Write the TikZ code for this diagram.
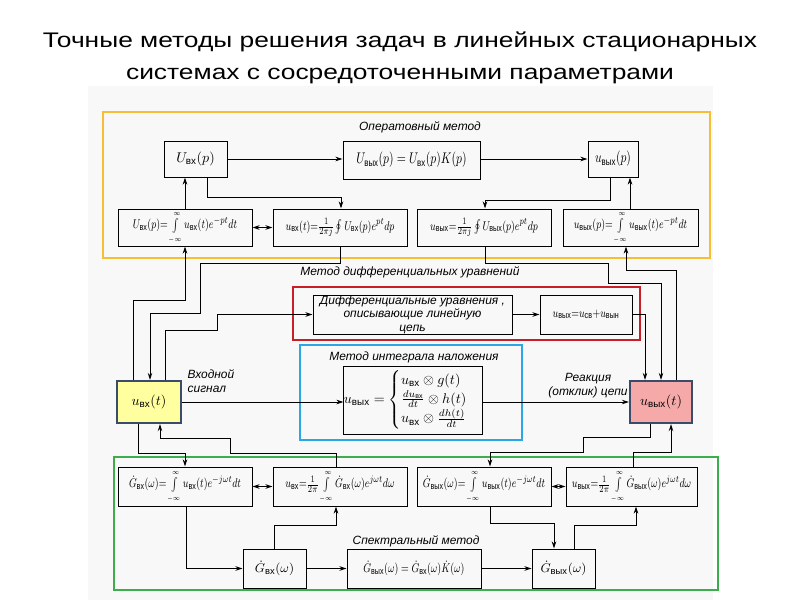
\documentclass[tikz,border=0pt]{standalone}
\usepackage{amsmath,amssymb}
\usepackage{fontspec}
\setmainfont{Liberation Sans}
\newfontfamily\titlefont[FakeStretch=1.25]{Liberation Sans}
\usepackage{tikz}
\usetikzlibrary{positioning,arrows.meta}

\definecolor{opcol}{HTML}{F6BE34}
\definecolor{difcol}{HTML}{C81E28}
\definecolor{intcol}{HTML}{2AA8E6}
\definecolor{spcol}{HTML}{3DAE4E}
\definecolor{vxfill}{HTML}{FFFFA0}
\definecolor{vyxfill}{HTML}{F5A9A9}
\definecolor{ioedge}{HTML}{3B4C6B}
\definecolor{scanbg}{HTML}{F8F8F8}

\newcommand{\vx}{\text{вх}}
\newcommand{\vyx}{\text{вых}}
\newcommand{\boxfont}{\fontsize{9.5}{10.5}\selectfont}
\newcommand{\lblfont}{\fontsize{8.5}{10}\selectfont\itshape}
% narrow formula, integral from -inf to inf
\newcommand{\cnd}[1]{\scalebox{0.76}[1]{$#1$}}
\newcommand{\infint}{\int\limits_{\scriptscriptstyle-\infty}^{\scriptscriptstyle\infty}}

\begin{document}
\begin{tikzpicture}[x=0.025cm,y=-0.025cm,
  >={Stealth[length=5pt,width=3.2pt]},
  sz/.style 2 args={minimum width=#1*0.025cm,minimum height=#2*0.025cm},
  blk/.style={draw,line width=0.7pt,inner sep=0pt,font=\boxfont},
  sig/.style={blk,line width=1.6pt,draw=ioedge,fill=#1,font=\fontsize{10}{11}\selectfont},
  frm/.style={draw=#1,line width=2pt},
  lbl/.style={font=\lblfont,inner sep=1pt},
  wire/.style={->,line width=0.7pt}]

\useasboundingbox (0,0) rectangle (800,600);
\fill[scanbg] (88,86) rectangle (713,600);

\node[font=\titlefont\fontsize{15}{22.5}\selectfont,align=center] (title) at (400,58)
  {Точные методы решения задач в линейных стационарных\\системах с сосредоточенными параметрами};

% coloured frames
\draw[frm=opcol] (103,112) rectangle (710,258);
\draw[frm=difcol] (293,287) rectangle (640,340);
\draw[frm=intcol] (300,345) rectangle (522,440);
\draw[frm=spcol] (114,457) rectangle (718,590);

\node[lbl] (oplbl) at (420,127) {Оператовный метод};
\node[lbl] (diflbl) at (410,272) {Метод дифференциальных уравнений};
\node[lbl] (intlbl) at (414,357) {Метод интеграла наложения};
\node[lbl] (splbl) at (416,541) {Спектральный метод};
\node[lbl,align=left,anchor=west] (inlbl) at (186,381) {Входной\\сигнал};
\node[lbl,align=center] (outlbl) at (588,386) {Реакция\\(отклик) цепи};

% operator method
\node[blk,sz={63}{36},font=\fontsize{10}{11}\selectfont] (A1) at (195.5,159) {$U_{\vx}(p)$};
\node[blk,sz={137}{38},font=\fontsize{10.5}{11}\selectfont] (A2) at (411.5,160) {\cnd{U_{\vyx}(p)=U_{\vx}(p)K(p)}};
\node[blk,sz={50}{36},font=\fontsize{10.5}{11}\selectfont] (A3) at (613,159) {\cnd{u_{\vyx}(p)}};
\node[blk,sz={134}{37}] (op1) at (185,227.5) {\cnd{U_{\vx}(p){=}\infint u_{\vx}(t)e^{-pt}dt}};
\node[blk,sz={134}{37}] (op2) at (340,227.5) {\cnd{u_{\vx}(t){=}\frac{1}{2\pi j}\oint U_{\vx}(p)e^{pt}dp}};
\node[blk,sz={134}{37}] (op3) at (484,227.5) {\cnd{u_{\vyx}{=}\frac{1}{2\pi j}\oint U_{\vyx}(p)e^{pt}dp}};
\node[blk,sz={135}{37}] (op4) at (630.5,227.5) {\cnd{u_{\vyx}(p){=}\infint u_{\vyx}(t)e^{-pt}dt}};

% differential equations, superposition integral
\node[blk,sz={199}{39},align=center,font=\fontsize{8.5}{9.5}\selectfont\itshape] (D1) at (412.5,314.5)
  {Дифференциальные уравнения ,\\описывающие линейную\\цепь};
\node[blk,sz={92}{39}] (D2) at (586,314.5) {\cnd{u_{\vyx}{=}u_{\text{св}}{+}u_{\text{вын}}}};
\node[blk,sz={134}{68},font=\fontsize{10}{11}\selectfont] (I) at (413,400)
  {$u_{\vyx}=\begin{cases}u_{\vx}\otimes g(t)\\ \frac{du_{\vx}}{dt}\otimes h(t)\\ u_{\vx}\otimes\frac{dh(t)}{dt}\end{cases}$};
\node[sig=vxfill,sz={64}{42}] (uvx) at (149,402) {$u_{\vx}(t)$};
\node[sig=vyxfill,sz={62}{42}] (uvyx) at (661,402) {$u_{\vyx}(t)$};

% spectral method
\node[blk,sz={134}{39}] (S1) at (185,486.5) {\cnd{\dot G_{\vx}(\omega){=}\infint u_{\vx}(t)e^{-j\omega t}dt}};
\node[blk,sz={134}{39}] (S2) at (340,486.5) {\cnd{u_{\vx}{=}\frac{1}{2\pi}\infint\dot G_{\vx}(\omega)e^{j\omega t}d\omega}};
\node[blk,sz={134}{39}] (S3) at (484,486.5) {\cnd{\dot G_{\vyx}(\omega){=}\infint u_{\vyx}(t)e^{-j\omega t}dt}};
\node[blk,sz={131}{39}] (S4) at (631.5,486.5) {\cnd{u_{\vyx}{=}\frac{1}{2\pi}\infint\dot G_{\vyx}(\omega)e^{j\omega t}d\omega}};
\node[blk,sz={63}{39}] (B1) at (274.5,568.5) {$\dot G_{\vx}(\omega)$};
\node[blk,sz={134}{39}] (B2) at (414,568.5) {\cnd{\dot G_{\vyx}(\omega)=\dot G_{\vx}(\omega)\dot K(\omega)}};
\node[blk,sz={63}{39}] (B3) at (563.5,568.5) {$\dot G_{\vyx}(\omega)$};

% top connectors
\draw[wire] (A1.east) -- (A1.east -| A2.west);
\draw[wire] (A2.east |- A3.west) -- (A3.west);
\draw[wire] (185,0 |- op1.north) -- (185,0 |- A1.south);
\draw[wire] (207,0 |- A1.south) |- (341,197) -- (341,0 |- op2.north);
\draw[wire,<->] (op1) -- (op2);
\draw[wire] (610,0 |- A3.south) |- (485,200) -- (485,0 |- op3.north);
\draw[wire] (630,0 |- op4.north) -- (630,0 |- A3.south);

% middle connectors
\draw[wire] (133,0 |- uvx.north) |- (185,300) -- (185,0 |- op1.south);
\draw[wire] (340,0 |- op2.south) |- (200,263) |- (150,313) -- (150,0 |- uvx.north);
\draw[wire] (165,0 |- uvx.north) |- (217,330) |- (D1.west);
\draw[wire] (D1) -- (D2);
\draw[wire] (D2.east) -| (645,0 |- uvyx.north);
\draw[wire] (485,0 |- op3.south) |- (608,263) |- (661,283) -- (661,0 |- uvyx.north);
\draw[wire] (676,0 |- uvyx.north) |- (626,270) -- (626,0 |- op4.south);
\draw[wire] (uvx.east) -- (uvx.east -| I.west);
\draw[wire] (uvx.east -| I.east) -- (uvx.east -| uvyx.west);

% bottom connectors
\draw[wire] (138,0 |- uvx.south) |- (185,453) -- (185,0 |- S1.north);
\draw[wire] (336,0 |- S2.north) |- (230,453) |- (160,438) -- (160,0 |- uvx.south);
\draw[wire] (650,0 |- uvyx.south) |- (583,437) |- (490,452) -- (490,0 |- S3.north);
\draw[wire] (633,0 |- S4.north) |- (671,452) -- (671,0 |- uvyx.south);
\draw[wire,<->] (S1) -- (S2);
\draw[wire,<->] (S3) -- (S4);
\draw[wire] (186,0 |- S1.south) |- (B1.west);
\draw[wire] (274,0 |- B1.north) |- (336,525) -- (336,0 |- S2.south);
\draw[wire] (490,0 |- S3.south) |- (554,523) -- (554,0 |- B3.north);
\draw[wire] (574,0 |- B3.north) |- (636,525) -- (636,0 |- S4.south);
\draw[wire] (B1) -- (B2);
\draw[wire] (B2) -- (B3);
\end{tikzpicture}
\end{document}
